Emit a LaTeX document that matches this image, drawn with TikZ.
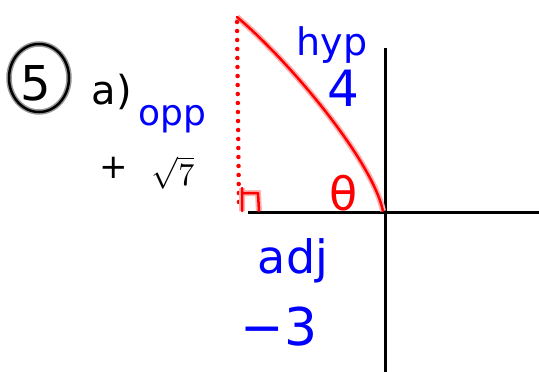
\documentclass[tikz,border=0pt]{standalone}
\usepackage{fontspec}
\setmainfont{DejaVu Sans}

\begin{document}
\begin{tikzpicture}%
  [x=1pt,y=-1pt,
   axis/.style={line width=3pt,black},
   pen/.style={line width=2.5pt,red,line cap=round,line join=round,
     preaction={draw,red!30,line width=6pt}},
   dots/.style={line width=4.5pt,red,line cap=round,dash pattern=on 0pt off 9pt,
     preaction={draw,red!30,line width=7.5pt,dash pattern=on 0pt off 9pt}},
   marker/.style={line width=2.5pt,black,
     preaction={draw,black!40,line width=5.5pt}},
   ink/.style={text=blue,inner sep=0pt},
   chalk/.style={text=black,inner sep=0pt},
   hand/.style={text=red,inner sep=0pt}
  ]
  \useasboundingbox (0,0) rectangle (539,372);
  \draw[axis] (248,212) -- (539,212);
  \draw[axis] (385,48) -- (385,372);
  \draw[pen] (237,17) .. controls (290,62) and (372,160) .. (383,211);
  \draw[dots] (237,22) -- (239,210);
  \draw[pen] (242,188) -- (242,211) (242,193) -- (258,193) -- (259,211);
  \node[hand,font=\fontsize{46}{46}\selectfont] (theta) at (344,193) {θ};
  \node[ink,font=\fontsize{38}{38}\selectfont,anchor=base] (hyp) at (332,55) {hyp};
  \node[ink,font=\fontsize{50}{50}\selectfont] (four) at (343,88) {4};
  \node[ink,font=\fontsize{36}{36}\selectfont,anchor=base] (opp) at (172,125) {opp};
  \node[chalk,font=\fontsize{34}{34}\selectfont] (plus) at (114,168) {+};
  \node[chalk,scale=3.2] (root) at (173,173) {$\sqrt{7}$};
  \draw[marker] (39,78) ellipse [x radius=30,y radius=34];
  \node[chalk,font=\fontsize{48}{48}\selectfont] (five) at (36,83) {5};
  \node[chalk,font=\fontsize{40}{40}\selectfont] (part) at (112,92) {a)};
  \node[ink,font=\fontsize{46}{46}\selectfont,anchor=base] (adj) at (293,273) {adj};
  \node[ink,font=\fontsize{52}{52}\selectfont] (three) at (279,327) {−3};
\end{tikzpicture}
\end{document}
